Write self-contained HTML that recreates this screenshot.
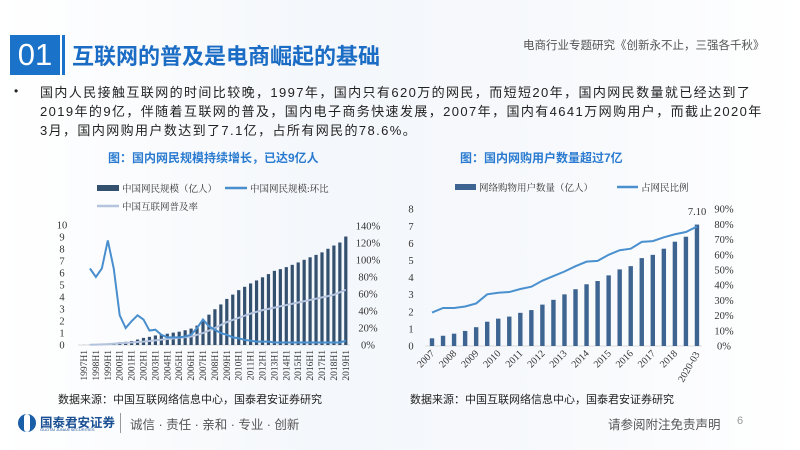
<!DOCTYPE html>
<html><head><meta charset="utf-8"><style>
body{margin:0;width:800px;height:450px;overflow:hidden;background:linear-gradient(90deg,#fff 0%,#f4f7fb 40%,#f7f9fc 70%,#fff 100%);font-family:"Liberation Sans","Noto Sans CJK SC",sans-serif;position:relative}
.a{position:absolute;white-space:nowrap}
</style></head><body>
<div class="a" style="left:10px;top:35px;width:50px;height:40px;background:#1a72c9;color:#fff;font-size:31px;line-height:40px;text-align:center">01</div>
<div class="a" style="left:62px;top:35px;width:3px;height:40px;background:#1a72c9"></div>
<div class="a" style="left:72px;top:39px;font-size:22px;font-weight:bold;color:#1a6cc4">互联网的普及是电商崛起的基础</div>
<div class="a" style="left:523px;top:37px;font-size:11.5px;color:#555">电商行业专题研究《创新永不止，三强各千秋》</div>
<div class="a" style="left:14px;top:84px;font-size:12px;color:#222">•</div>
<div class="a" style="left:40px;top:83px;font-size:13px;letter-spacing:1.4px;color:#222;line-height:19px">国内人民接触互联网的时间比较晚，1997年，国内只有620万的网民，而短短20年，国内网民数量就已经达到了<br>2019年的9亿，伴随着互联网的普及，国内电子商务快速发展，2007年，国内有4641万网购用户，而截止2020年<br>3月，国内网购用户数达到了7.1亿，占所有网民的78.6%。</div>
<div class="a" style="left:108px;top:149px;font-size:12px;font-weight:bold;color:#2a7bd0">图：国内网民规模持续增长，已达9亿人</div>
<div class="a" style="left:460px;top:149px;font-size:12px;font-weight:bold;color:#2a7bd0">图：国内网购用户数量超过7亿</div>
<svg class="a" style="left:0;top:0" width="800" height="450" id="s"></svg>
<div class="a" style="left:58px;top:391px;font-size:11px;color:#222">数据来源：中国互联网络信息中心，国泰君安证券研究</div>
<div class="a" style="left:410px;top:391px;font-size:11px;color:#222">数据来源：中国互联网络信息中心，国泰君安证券研究</div>
<div class="a" style="left:18px;top:414px;width:18px;height:18px;border-radius:50%;background:#1a5ea8"></div>
<div class="a" style="left:24px;top:414px;width:6px;height:18px;background:#fff;border-radius:3px"></div>
<div class="a" style="left:40px;top:412px;font-size:12.5px;font-weight:bold;color:#1a4f94">国泰君安证券</div>
<div class="a" style="left:40px;top:427px;font-size:4px;color:#1a4f94">GUOTAI JUNAN SECURITIES</div>
<div class="a" style="left:120px;top:413px;width:1px;height:20px;background:#999"></div>
<div class="a" style="left:130px;top:414px;font-size:12.5px;color:#555">诚信 · 责任 · 亲和 · 专业 · 创新</div>
<div class="a" style="left:608px;top:414px;font-size:12.5px;color:#555">请参阅附注免责声明</div>
<div class="a" style="left:737px;top:415px;font-size:11px;color:#999">6</div>
<script>
var s='',F='font-family="Liberation Serif,Noto Serif CJK SC,serif"';
function t(x,y,v,o){s+='<text x="'+x+'" y="'+y+'" '+F+' font-size="'+(o&&o.fs||10)+'" fill="#333" '+(o&&o.a?'text-anchor="'+o.a+'" ':'')+(o&&o.r?'transform="rotate('+o.r+' '+x+' '+y+')" ':'')+'>'+v+'</text>';}
var L=[0.006,0.012,0.021,0.04,0.089,0.169,0.225,0.265,0.337,0.456,0.591,0.68,0.795,0.87,0.94,1.03,1.11,1.23,1.37,1.62,2.1,2.53,2.98,3.38,3.84,4.2,4.57,4.85,5.13,5.38,5.64,5.91,6.18,6.32,6.49,6.68,6.88,7.1,7.31,7.51,7.72,8.02,8.29,8.54,9.04];
var G=[null,90,80,90,123,90,35,20,28,35,30,17,18,12,9,9,9,10,12,20,30,22,18,14,12,9,8,6,5,4,4,4,3,3,3,3,3,3,3,3,3,3,3,3,5];
var Pk=[[0,0],[4,1],[10,4],[14,7],[18,10],[20,14],[22,20],[24,27],[26,32],[28,37],[30,41],[32,44],[34,47],[36,50],[38,53],[40,56],[42,59],[44,65]];
function P(i){for(var k=1;k<Pk.length;k++)if(i<=Pk[k][0]){var a=Pk[k-1],b=Pk[k];return a[1]+(b[1]-a[1])*(i-a[0])/(b[0]-a[0]);}}
var x0=84,st=5.95,y0=345;
s+='<line x1="78" y1="345" x2="350" y2="345" stroke="#bbb" stroke-width="0.6"/>';
for(var i=0;i<=10;i++)t(62,y0-i*12+3.5,i,{a:'middle',fs:10.5});
for(var i=0;i<=7;i++)t(368,y0-i*17+3.5,(i*20)+'%',{a:'middle',fs:10.5});
L.forEach(function(v,i){var x=x0+i*st;s+='<rect x="'+(x-1.6)+'" y="'+(y0-v*12)+'" width="3.2" height="'+(v*12)+'" fill="#34506f"/>';});
var p1='',p2='';G.forEach(function(v,i){if(v!=null)p1+=(p1?'L':'M')+(x0+i*st)+' '+(y0-v*0.85);});
for(var i=1;i<45;i++)p2+=(p2?'L':'M')+(x0+i*st)+' '+(y0-P(i)*0.85);
s+='<path d="'+p2+'" fill="none" stroke="#b4c3de" stroke-width="2"/>';
s+='<path d="'+p1+'" fill="none" stroke="#4a8fcd" stroke-width="2"/>';
for(var i=0;i<23;i++)t(x0+i*2*st+3,350,(1997+i)+'H1',{a:'end',r:-90,fs:9.5});
s+='<rect x="97" y="185" width="22" height="6" fill="#34506f"/>';
s+='<line x1="225" y1="188" x2="247" y2="188" stroke="#4a8fcd" stroke-width="2.5"/>';
s+='<line x1="97" y1="206" x2="119" y2="206" stroke="#b4c3de" stroke-width="2.5"/>';
t(122,192,'中国网民规模（亿人）',{fs:9.5});t(250,192,'中国网民规模:环比',{fs:9.5});t(122,210,'中国互联网普及率',{fs:9.5});
var B=[0.45,0.6,0.72,0.88,1.1,1.42,1.6,1.72,1.94,2.1,2.42,2.7,3.02,3.32,3.61,3.8,4.13,4.48,4.67,5.14,5.33,5.69,6.1,6.39,7.1];
var R=[22,25,25,26,28,34,35,35.5,37.5,39,43,46,49,52.5,55.5,56,60,63,64,68.5,69,71.5,73.5,75,78.6];
var rx=432,rs=11.04,ry=346,u=17.1;
s+='<line x1="425" y1="346" x2="702" y2="346" stroke="#bbb" stroke-width="0.6"/>';
for(var i=0;i<=8;i++)t(411,ry-i*u+3.5,i,{a:'middle',fs:10.5});
for(var i=0;i<=9;i++)t(724,ry-i*u*8/9+3.5,(i*10)+'%',{a:'middle',fs:10.5});
var p3='';B.forEach(function(v,i){var x=rx+i*rs;s+='<rect x="'+(x-2.2)+'" y="'+(ry-v*u)+'" width="4.4" height="'+(v*u)+'" fill="#3e6591"/>';p3+=(i?'L':'M')+x+' '+(ry-R[i]*u*8/90);});
s+='<path d="'+p3+'" fill="none" stroke="#4a90cf" stroke-width="2"/>';
t(697,215,'7.10',{a:'middle',fs:10.5});
var yl=['2007','2008','2009','2010','2011','2012','2013','2014','2015','2016','2017','2018'];
yl.forEach(function(v,i){var x=rx+i*2*rs+3;t(x,354,v,{a:'end',r:-45,fs:10});});
t(rx+24*rs+3,354,'2020-03',{a:'end',r:-60,fs:10});
s+='<rect x="455" y="184" width="21" height="6" fill="#3e6591"/>';
s+='<line x1="617" y1="187" x2="638" y2="187" stroke="#4a90cf" stroke-width="2.5"/>';
t(479,191,'网络购物用户数量（亿人）',{fs:9.5});t(641,191,'占网民比例',{fs:9.5});
document.getElementById('s').innerHTML=s;
</script>
</body></html>
